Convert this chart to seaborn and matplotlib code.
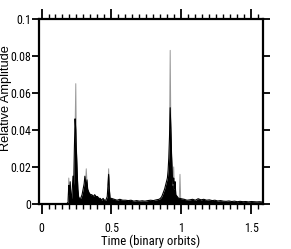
import numpy as np
import pandas as pd
import os
import matplotlib
matplotlib.use("Agg")
import matplotlib.pyplot as plt
import seaborn as sns
from matplotlib.ticker import MultipleLocator, FuncFormatter
from matplotlib import font_manager

# main (black) trace
time_black = [0.18, 0.19, 0.195, 0.20, 0.205, 0.21, 0.215, 0.22, 0.225, 0.23, 0.235, 0.24,
              0.245, 0.25, 0.255, 0.26, 0.265, 0.27, 0.28, 0.29, 0.30, 0.305, 0.31, 0.315,
              0.32, 0.325, 0.33, 0.34, 0.35, 0.36, 0.37, 0.38, 0.39, 0.40, 0.41, 0.42, 0.43,
              0.44, 0.45, 0.46, 0.47, 0.475, 0.48, 0.485, 0.49, 0.50,
              0.52, 0.54, 0.56, 0.58, 0.60, 0.62, 0.64, 0.66, 0.68, 0.70, 0.72, 0.74, 0.76,
              0.78, 0.80, 0.82, 0.84, 0.85, 0.86, 0.87, 0.88, 0.89, 0.90, 0.905, 0.91, 0.915,
              0.92, 0.925, 0.93, 0.935, 0.94, 0.945, 0.95, 0.955, 0.96, 0.97, 0.98, 0.99,
              1.00, 1.02, 1.04, 1.06, 1.08, 1.10, 1.12, 1.14, 1.16, 1.18, 1.20, 1.22, 1.24,
              1.26, 1.28, 1.30, 1.32, 1.34, 1.36, 1.38, 1.40, 1.42, 1.44, 1.46, 1.48, 1.50,
              1.52, 1.54, 1.56, 1.58]
amp_black = [0.0, 0.001, 0.010, 0.005, 0.012, 0.004, 0.003, 0.008, 0.015, 0.010, 0.030, 0.046,
             0.040, 0.028, 0.017, 0.008, 0.004, 0.003, 0.003, 0.005, 0.009, 0.011, 0.015, 0.012,
             0.009, 0.013, 0.008, 0.006, 0.005, 0.005, 0.004, 0.005, 0.004, 0.004, 0.003, 0.003,
             0.002, 0.003, 0.002, 0.002, 0.004, 0.010, 0.016, 0.008, 0.003, 0.003,
             0.0025, 0.002, 0.0025, 0.002, 0.002, 0.0018, 0.002, 0.0015, 0.0018, 0.0015,
             0.0017, 0.0015, 0.0018, 0.002, 0.0018, 0.0022, 0.0025, 0.003, 0.004, 0.006,
             0.008, 0.011, 0.014, 0.018, 0.025, 0.036, 0.052, 0.040, 0.026, 0.016, 0.011,
             0.014, 0.008, 0.012, 0.005, 0.004, 0.003, 0.003,
             0.0028, 0.0025, 0.002, 0.0022, 0.0025, 0.002, 0.0028, 0.0022, 0.0025, 0.002,
             0.0022, 0.0018, 0.002, 0.0016, 0.0018, 0.0015, 0.0014, 0.0016, 0.0013, 0.0015,
             0.0012, 0.0014, 0.0012, 0.0013, 0.0011, 0.0013, 0.0012, 0.0011, 0.0012, 0.001]

# grey spikes that stick out above the black trace, one group per spike
time_grey = [0.19, 0.195, 0.20,
             0.24, 0.245, 0.25,
             0.315, 0.32, 0.325,
             0.475, 0.48, 0.485,
             0.915, 0.92, 0.925,
             0.94, 0.945, 0.95,
             0.985, 0.99, 0.995]
amp_grey = [0.002, 0.014, 0.005,
            0.040, 0.065, 0.028,
            0.012, 0.019, 0.012,
            0.010, 0.019, 0.008,
            0.036, 0.083, 0.040,
            0.010, 0.020, 0.008,
            0.003, 0.016, 0.003]
spike_grey = [i for i in range(7) for _ in range(3)]

df_black = pd.DataFrame({"t": time_black, "a": amp_black})
df_grey = pd.DataFrame({"t": time_grey, "a": amp_grey, "spike": spike_grey})

sns.set_style("ticks")
plt.rcParams["font.family"] = ["Liberation Sans", "DejaVu Sans"]
plt.rcParams["text.color"] = "black"
plt.rcParams["axes.labelcolor"] = "black"
plt.rcParams["xtick.color"] = "black"
plt.rcParams["ytick.color"] = "black"

# narrow font for the tick labels: pick a condensed face on the system
files = [f.fname for f in font_manager.fontManager.ttflist]
prefs = ["RobotoCondensed-Regular", "Roboto_Condensed-Regular", "NotoSans-Condensed.",
         "LiberationSansNarrow-Regular", "DejaVuSansCondensed."]
chosen = None
for p in prefs:
    hits = sorted(f for f in files if p in os.path.basename(f))
    if hits:
        chosen = hits[0]
        break
if chosen:
    tick_font = font_manager.FontProperties(fname=chosen, size=8.6)
    label_font = font_manager.FontProperties(fname=chosen, size=9.2)
else:
    tick_font = font_manager.FontProperties(family="Liberation Sans", size=8)
    label_font = font_manager.FontProperties(family="Liberation Sans", size=8.5)

fig = plt.figure(figsize=(2.91, 2.49), dpi=100)
ax = fig.add_axes([0.134, 0.181, 0.770, 0.743])

sns.lineplot(data=df_grey, x="t", y="a", units="spike", estimator=None,
             color="0.6", lw=0.7, ax=ax)
ax.fill_between(df_black["t"], 0, df_black["a"], color="black", lw=0)
sns.lineplot(data=df_black, x="t", y="a", color="black", lw=0.8, ax=ax)

ax.set_xlim(-0.018, 1.584)
ax.set_ylim(0, 0.1)
ax.xaxis.set_major_locator(MultipleLocator(0.5))
ax.xaxis.set_minor_locator(MultipleLocator(0.05))
ax.yaxis.set_major_locator(MultipleLocator(0.02))
ax.xaxis.set_major_formatter(FuncFormatter(lambda v, p: "%g" % v))
ax.yaxis.set_major_formatter(FuncFormatter(lambda v, p: "%g" % round(v, 3)))

for s in ax.spines.values():
    s.set_visible(True)
    s.set_color("black")
    s.set_linewidth(1.6)

ax.tick_params(axis="x", which="major", direction="out", length=7.2, width=1.3,
               top=True, labeltop=False, pad=5.5)
ax.tick_params(axis="x", which="minor", direction="out", length=3.6, width=1.0, top=True)
ax.tick_params(axis="y", which="major", direction="out", length=5, width=1.3,
               right=True, labelright=False, pad=0.5)
for lab in ax.get_xticklabels() + ax.get_yticklabels():
    lab.set_fontproperties(tick_font)

ax.set_xlabel("Time (binary orbits)", fontproperties=label_font, labelpad=0)
ax.set_ylabel("Relative Amplitude", fontsize=9.2)
ax.yaxis.set_label_coords(-0.12, 0.57)

fig.savefig("out.png", dpi=100)
